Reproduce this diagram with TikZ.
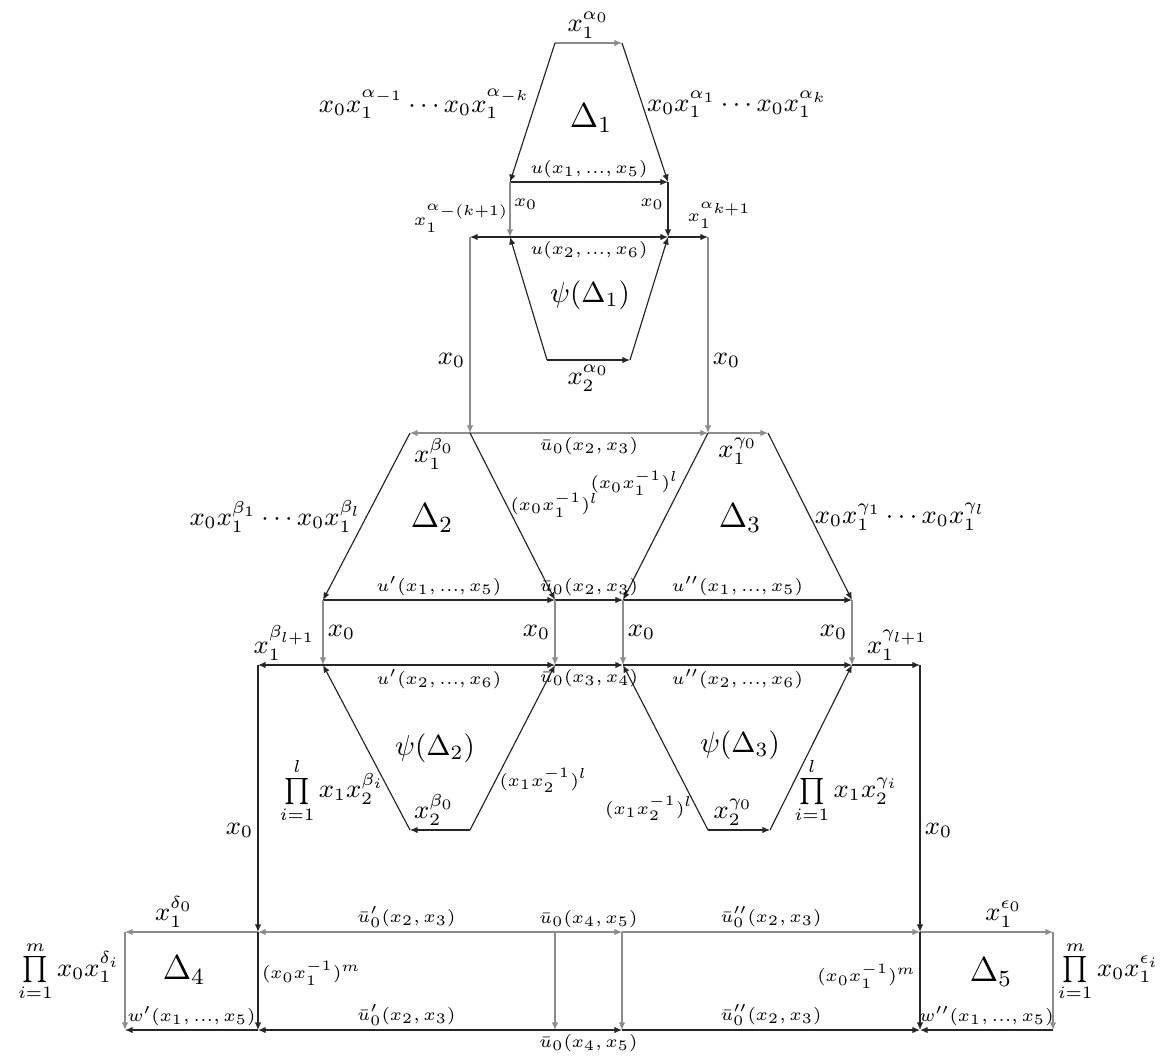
\documentclass[tikz,border=0pt]{standalone}
\usepackage{amsmath}
\usetikzlibrary{arrows.meta}

\begin{document}
\begin{tikzpicture}[
    x=0.345pt, y=-0.345pt,
    >={Latex[length=2.6pt,width=2.2pt]},
    arrow/.style={->, draw=black!85, line width=0.4pt},
    garrow/.style={->, draw=black!45, line width=0.4pt},
    lab/.style={font=\fontsize{6}{7}\selectfont, inner sep=1.2pt},
    big/.style={font=\small, inner sep=1.5pt},
    face/.style={font=\large},
    psiface/.style={font=\normalsize}
]
\useasboundingbox (0,0) rectangle (1165,1058);

% corners
\coordinate (A1) at (555,43);  \coordinate (A2) at (622,43);
\coordinate (B1) at (510,182); \coordinate (B2) at (668,182);
\coordinate (C0) at (470,237); \coordinate (C1) at (510,237);
\coordinate (C2) at (668,237); \coordinate (C3) at (708,237);
\coordinate (D1) at (547,360); \coordinate (D2) at (630,360);
\coordinate (F1) at (410,433); \coordinate (E0) at (470,433);
\coordinate (E3) at (708,433); \coordinate (F4) at (768,433);
\coordinate (G1) at (323,600); \coordinate (G2) at (555,600);
\coordinate (G3) at (623,600); \coordinate (G4) at (852,600);
\coordinate (H0) at (258,665); \coordinate (H1) at (323,665);
\coordinate (H2) at (555,665); \coordinate (H3) at (623,665);
\coordinate (H4) at (852,665); \coordinate (H5) at (920,665);
\coordinate (I1) at (410,830); \coordinate (I2) at (470,830);
\coordinate (I3) at (708,830); \coordinate (I4) at (770,830);
\coordinate (J0) at (125,932); \coordinate (J1) at (258,932);
\coordinate (J2) at (555,932); \coordinate (J3) at (622,932);
\coordinate (J4) at (920,932); \coordinate (J5) at (1053,932);
\coordinate (K0) at (125,1030); \coordinate (K1) at (258,1030);
\coordinate (K2) at (555,1030); \coordinate (K3) at (622,1030);
\coordinate (K4) at (920,1030); \coordinate (K5) at (1053,1030);

% faces
\node[face] (d1) at (591,118) {$\Delta_1$};
\node[psiface] (pd1) at (590,295) {$\psi(\Delta_1)$};
\node[face] (d2) at (432,518) {$\Delta_2$};
\node[face] (d3) at (740,518) {$\Delta_3$};
\node[psiface] (pd2) at (435,748) {$\psi(\Delta_2)$};
\node[psiface] (pd3) at (740,745) {$\psi(\Delta_3)$};
\node[face] (d4) at (184,970) {$\Delta_4$};
\node[face] (d5) at (991,972) {$\Delta_5$};

% Delta_1
\draw[garrow] (A1) -- node[big, above] {$x_1^{\alpha_0}$} (A2);
\draw[arrow] (A1) -- node[big, left, pos=0.44] {$x_0x_1^{\alpha_{-1}}\cdots x_0x_1^{\alpha_{-k}}$} (B1);
\draw[arrow] (A2) -- node[big, right, pos=0.44] {$x_0x_1^{\alpha_1}\cdots x_0x_1^{\alpha_k}$} (B2);
\draw[arrow] (B1) -- node[lab, above] {$u(x_1,...,x_5)$} (B2);
\draw[garrow] (B1) -- node[lab, right, pos=0.4] {$x_0$} (C1);
\draw[arrow] (B2) -- node[lab, left, pos=0.4] {$x_0$} (C2);
\draw[arrow] (C1) -- (C0);
\node[lab] (akm) at (462,218) {$x_1^{\alpha_{-(k+1)}}$};
\draw[arrow] (C1) -- node[lab, below] {$u(x_2,...,x_6)$} (C2);
\draw[arrow] (C2) -- (C3);
\node[lab] (akp) at (720,215) {$x_1^{\alpha_{k+1}}$};

% psi(Delta_1)
\draw[arrow] (D1) -- (C1);
\draw[arrow] (D2) -- (C2);
\draw[arrow] (D1) -- node[big, below] {$x_2^{\alpha_0}$} (D2);
\draw[garrow] (C0) -- node[big, left, pos=0.63] {$x_0$} (E0);
\draw[garrow] (C3) -- node[big, right, pos=0.63] {$x_0$} (E3);
\draw[garrow] (E0) -- node[lab, below] {$\bar{u}_0(x_2,x_3)$} (E3);

% Delta_2 and Delta_3
\draw[garrow] (E0) -- node[big, below, xshift=-2pt] {$x_1^{\beta_0}$} (F1);
\draw[garrow] (E3) -- node[big, below] {$x_1^{\gamma_0}$} (F4);
\draw[arrow] (F1) -- node[big, left, pos=0.5] {$x_0x_1^{\beta_1}\cdots x_0x_1^{\beta_l}$} (G1);
\draw[arrow] (E0) -- node[lab, right, pos=0.43] {$(x_0x_1^{-1})^l$} (G2);
\draw[arrow] (E3) -- node[lab, left, pos=0.3] {$(x_0x_1^{-1})^l$} (G3);
\draw[arrow] (F4) -- node[big, right, pos=0.5] {$x_0x_1^{\gamma_1}\cdots x_0x_1^{\gamma_l}$} (G4);
\draw[arrow] (G1) -- node[lab, above] {$u'(x_1,...,x_5)$} (G2);
\draw[arrow] (G2) -- node[lab, above] {$\bar{u}_0(x_2,x_3)$} (G3);
\draw[arrow] (G3) -- node[lab, above] {$u''(x_1,...,x_5)$} (G4);

% x_0 rungs
\draw[garrow] (G1) -- node[big, right] {$x_0$} (H1);
\draw[garrow] (G2) -- node[big, left] {$x_0$} (H2);
\draw[garrow] (G3) -- node[big, right] {$x_0$} (H3);
\draw[garrow] (G4) -- node[big, left] {$x_0$} (H4);
\draw[arrow] (H1) -- node[big, above, xshift=-2pt] {$x_1^{\beta_{l+1}}$} (H0);
\draw[arrow] (H1) -- node[lab, below] {$u'(x_2,...,x_6)$} (H2);
\draw[arrow] (H2) -- node[lab, below] {$\bar{u}_0(x_3,x_4)$} (H3);
\draw[arrow] (H3) -- node[lab, below] {$u''(x_2,...,x_6)$} (H4);
\draw[arrow] (H4) -- node[big, above, xshift=4pt] {$x_1^{\gamma_{l+1}}$} (H5);

% psi(Delta_2) and psi(Delta_3)
\draw[arrow] (I1) -- node[big, left, pos=0.24] {$\prod\limits_{i=1}^{l} x_1x_2^{\beta_i}$} (H1);
\draw[arrow] (I2) -- node[lab, right, pos=0.3] {$(x_1x_2^{-1})^l$} (H2);
\draw[arrow] (I2) -- node[big, above, xshift=-2pt] {$x_2^{\beta_0}$} (I1);
\draw[arrow] (I3) -- node[lab, left, pos=0.13] {$(x_1x_2^{-1})^l$} (H3);
\draw[arrow] (I4) -- node[big, right, pos=0.24] {$\prod\limits_{i=1}^{l} x_1x_2^{\gamma_i}$} (H4);
\draw[arrow] (I3) -- node[big, above, xshift=-2pt] {$x_2^{\gamma_0}$} (I4);
\draw[arrow] (H0) -- node[big, left, pos=0.62] {$x_0$} (J1);
\draw[arrow] (H5) -- node[big, right, pos=0.62] {$x_0$} (J4);

% Delta_4, Delta_5 and the strip
\draw[garrow] (J1) -- node[big, above, xshift=-6pt] {$x_1^{\delta_0}$} (J0);
\draw[garrow] (J2) -- node[lab, above] {$\bar{u}'_0(x_2,x_3)$} (J1);
\draw[garrow] (J2) -- node[lab, above] {$\bar{u}_0(x_4,x_5)$} (J3);
\draw[garrow] (J3) -- node[lab, above] {$\bar{u}''_0(x_2,x_3)$} (J4);
\draw[garrow] (J4) -- node[big, above, xshift=6pt] {$x_1^{\epsilon_0}$} (J5);
\draw[garrow] (J0) -- node[big, left, pos=0.4] {$\prod\limits_{i=1}^{m} x_0x_1^{\delta_i}$} (K0);
\draw[arrow] (J1) -- node[lab, right, pos=0.42] {$(x_0x_1^{-1})^m$} (K1);
\draw[garrow] (J2) -- (K2);
\draw[garrow] (J3) -- (K3);
\draw[arrow] (J4) -- node[lab, left, pos=0.45] {$(x_0x_1^{-1})^m$} (K4);
\draw[garrow] (J5) -- node[big, right, pos=0.4] {$\prod\limits_{i=1}^{m} x_0x_1^{\epsilon_i}$} (K5);
\draw[arrow] (K1) -- node[lab, above] {$w'(x_1,...,x_5)$} (K0);
\draw[arrow] (K2) -- node[lab, above] {$\bar{u}'_0(x_2,x_3)$} (K1);
\draw[arrow] (K2) -- node[lab, below] {$\bar{u}_0(x_4,x_5)$} (K3);
\draw[arrow] (K3) -- node[lab, above] {$\bar{u}''_0(x_2,x_3)$} (K4);
\draw[arrow] (K5) -- node[lab, above] {$w''(x_1,...,x_5)$} (K4);

\end{tikzpicture}
\end{document}
